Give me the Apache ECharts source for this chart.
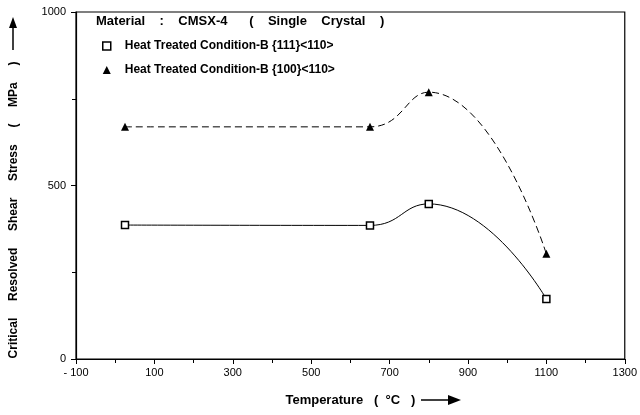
<!DOCTYPE html>
<html>
<head>
<meta charset="utf-8">
<script src="https://cdn.jsdelivr.net/npm/echarts@6/dist/echarts.min.js"></script>
<style>
  html, body { margin: 0; padding: 0; background: #fff; }
  #chart { width: 640px; height: 415px; }
</style>
</head>
<body>
<div id="chart"></div>
<script>
// data
var temps = [25, 650, 800, 1100];
var crss111 = [386, 385, 447, 173];
var crss100 = [669, 669, 769, 303];
var seriesNames = ['Heat Treated Condition-B {111}<110>', 'Heat Treated Condition-B {100}<110>'];
var xTicks = [-100, 100, 300, 500, 700, 900, 1100, 1300];
var yTicks = [0, 500, 1000];

function pairs(xs, ys) {
  return xs.map(function (x, i) { return [x, ys[i]]; });
}

var font = '"Liberation Sans", Arial, sans-serif';
var chart = echarts.init(document.getElementById('chart'));

chart.setOption({
  animation: false,
  backgroundColor: '#fff',
  textStyle: { fontFamily: font, color: '#000' },
  grid: {
    left: 76, right: 13, top: 12, bottom: 56,
    show: true, borderColor: '#000', borderWidth: 1.2, backgroundColor: 'transparent'
  },
  legend: {
    orient: 'vertical',
    left: 97, top: 35,
    itemWidth: 8, itemHeight: 8, itemGap: 12,
    textStyle: { fontFamily: font, fontSize: 12, fontWeight: 'bold', color: '#000', padding: [0, 0, 0, 9] },
    data: [
      { name: seriesNames[0], icon: 'rect', itemStyle: { color: '#fff', borderColor: '#000', borderWidth: 1.5 } },
      { name: seriesNames[1], icon: 'triangle', itemStyle: { color: '#000', borderWidth: 0 } }
    ]
  },
  xAxis: {
    type: 'value',
    min: -100, max: 1300, interval: 200,
    name: 'Temperature   (  \u00b0C   )',
    nameLocation: 'middle', nameGap: 35,
    nameTextStyle: { fontFamily: font, fontSize: 13, fontWeight: 'bold', color: '#000' },
    axisLine: { onZero: false, lineStyle: { color: '#000', width: 1.2 } },
    axisTick: { show: true, length: 5, lineStyle: { color: '#000' } },
    minorTick: { show: true, splitNumber: 2, length: 4, lineStyle: { color: '#000' } },
    splitLine: { show: false },
    axisLabel: {
      color: '#000', fontSize: 11, margin: 8, fontFamily: font,
      formatter: function (v) { return xTicks.indexOf(v) >= 0 ? (v < 0 ? '- ' + (-v) : String(v)) : ''; }
    }
  },
  yAxis: {
    type: 'value',
    min: 0, max: 1000, interval: 500,
    axisLine: { show: true, onZero: false, lineStyle: { color: '#000', width: 1.2 } },
    axisTick: { show: true, length: 5, lineStyle: { color: '#000' } },
    minorTick: { show: true, splitNumber: 2, length: 4, lineStyle: { color: '#000' } },
    splitLine: { show: false },
    axisLabel: {
      color: '#000', fontSize: 11, margin: 10, fontFamily: font,
      formatter: function (v) { return yTicks.indexOf(v) >= 0 ? String(v) : ''; }
    }
  },
  graphic: [
    {
      type: 'text', left: 96, top: 15,
      style: {
        text: 'Material    :    CMSX-4      (    Single    Crystal    )',
        font: 'bold 13px ' + font, fill: '#000'
      }
    },
    {
      type: 'text', x: 14, y: 210, rotation: Math.PI / 2,
      style: {
        text: 'Critical     Resolved     Shear     Stress     (     MPa     )',
        font: 'bold 12px ' + font, fill: '#000', align: 'center', verticalAlign: 'middle'
      }
    },
    // y-axis name arrow
    { type: 'line', shape: { x1: 13, y1: 50, x2: 13, y2: 26 }, style: { stroke: '#000', lineWidth: 1.5 } },
    { type: 'polygon', shape: { points: [[13, 17], [9, 28], [17, 28]] }, style: { fill: '#000' } },
    // x-axis name arrow
    { type: 'line', shape: { x1: 421, y1: 400, x2: 450, y2: 400 }, style: { stroke: '#000', lineWidth: 1.5 } },
    { type: 'polygon', shape: { points: [[461, 400], [448, 395], [448, 405]] }, style: { fill: '#000' } }
  ],
  series: [
    {
      name: seriesNames[0],
      type: 'line',
      data: pairs(temps, crss111),
      smooth: 0.5,
      symbol: 'rect', symbolSize: 7,
      itemStyle: { color: '#fff', borderColor: '#000', borderWidth: 1.5 },
      lineStyle: { color: '#000', width: 1 }
    },
    {
      name: seriesNames[1],
      type: 'line',
      data: pairs(temps, crss100),
      smooth: 0.5,
      symbol: 'triangle', symbolSize: 8,
      itemStyle: { color: '#000', borderWidth: 0 },
      lineStyle: { color: '#000', width: 1, type: [7, 4] }
    }
  ]
});
</script>
</body>
</html>
